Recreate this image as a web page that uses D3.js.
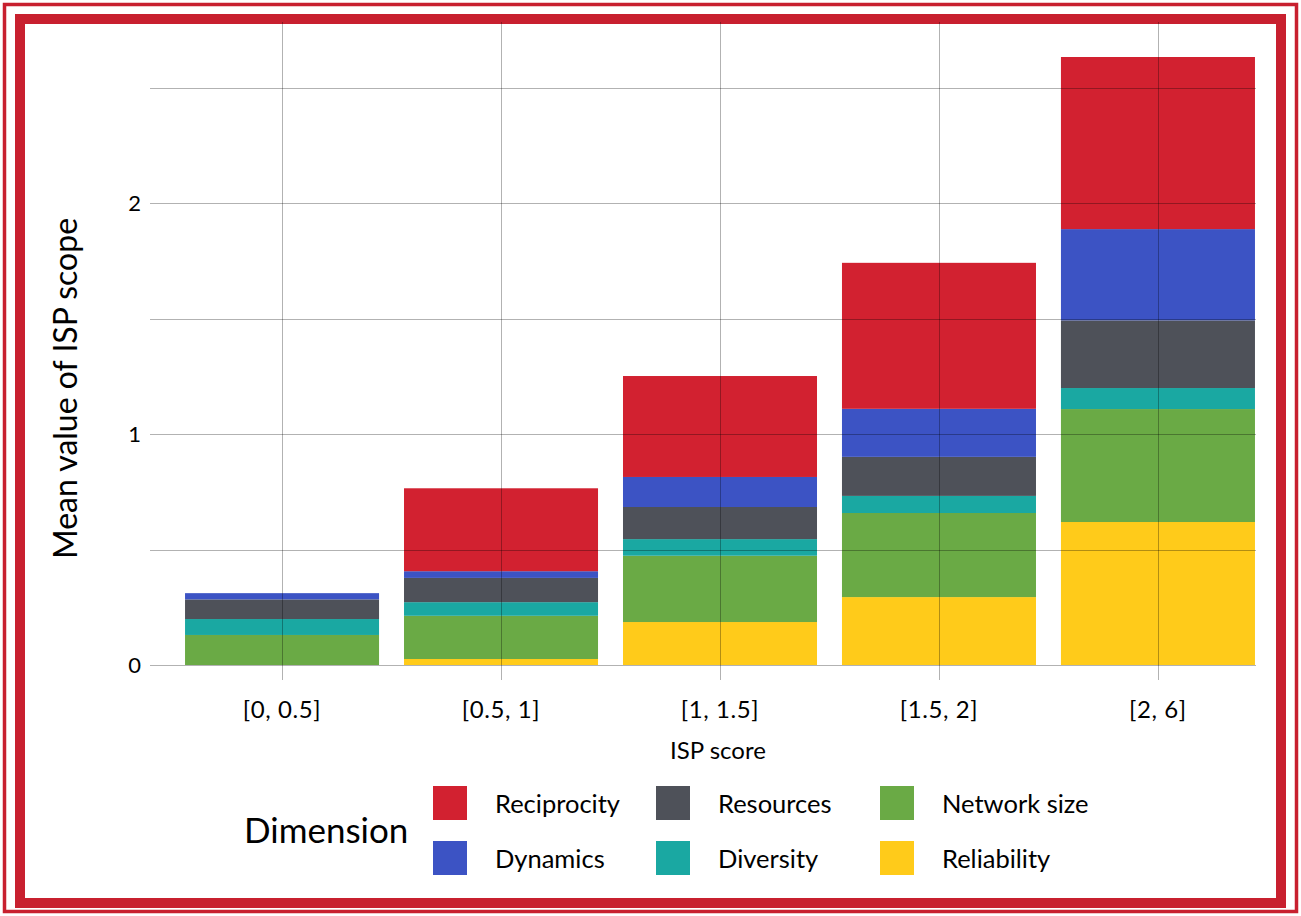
<!DOCTYPE html>
<html>
<head>
<meta charset="utf-8">
<script src="https://cdn.jsdelivr.net/npm/d3@7"></script>
<style>
  html, body { margin: 0; padding: 0; background: #fff; }
  svg { display: block; font-family: "Lato", "Noto Sans", sans-serif; }
</style>
</head>
<body>
<svg id="chart" width="1301" height="916"></svg>
<script>
// ISP score bins along the x axis
const categories = ["[0, 0.5]", "[0.5, 1]", "[1, 1.5]", "[1.5, 2]", "[2, 6]"];

// Stacking order, bottom to top
const dimensions = ["Reliability", "Network size", "Diversity", "Resources", "Dynamics", "Reciprocity"];

// Mean value of each dimension per bin
const reliability = [0.000, 0.026, 0.186, 0.294, 0.619];
const networkSize = [0.130, 0.187, 0.287, 0.364, 0.489];
const diversity   = [0.069, 0.059, 0.072, 0.074, 0.091];
const resources   = [0.085, 0.105, 0.139, 0.169, 0.293];
const dynamics    = [0.027, 0.029, 0.130, 0.208, 0.395];
const reciprocity = [0.000, 0.359, 0.437, 0.632, 0.745];

const yTicks = [0, 1, 2];
const yGrid = [0, 0.5, 1, 1.5, 2, 2.5];

// Legend layout: columns read top-to-bottom
const legendOrder = ["Reciprocity", "Dynamics", "Resources", "Diversity", "Network size", "Reliability"];

const colors = {
  "Reciprocity": "#D22130",
  "Dynamics": "#3C53C4",
  "Resources": "#4E5159",
  "Diversity": "#1AA8A2",
  "Network size": "#6AAA45",
  "Reliability": "#FFCB1A"
};

const seriesValues = {
  "Reliability": reliability,
  "Network size": networkSize,
  "Diversity": diversity,
  "Resources": resources,
  "Dynamics": dynamics,
  "Reciprocity": reciprocity
};

const rows = categories.map((c, i) => {
  const r = { category: c };
  dimensions.forEach(d => { r[d] = seriesValues[d][i]; });
  return r;
});

const svg = d3.select("#chart");
const W = 1301, H = 916;

// Double red frame
svg.append("rect").attr("x", 4.5).attr("y", 4.5).attr("width", W - 9).attr("height", H - 9)
  .attr("fill", "none").attr("stroke", "#C8202F").attr("stroke-width", 3.5);
svg.append("rect").attr("x", 20).attr("y", 19).attr("width", W - 30 - 10).attr("height", H - 19 - 13)
  .attr("fill", "none").attr("stroke", "#C8202F").attr("stroke-width", 10);

const plot = { left: 150, right: 1256, top: 22, bottom: 665 };

const x = d3.scaleBand()
  .domain(categories)
  .range([plot.left, 1290])
  .paddingInner(0.114)
  .paddingOuter(0.16);

const y = d3.scaleLinear()
  .domain([0, 1])
  .range([plot.bottom, plot.bottom - 231]);

const stack = d3.stack().keys(dimensions);
const stacked = stack(rows);

// Bars
const g = svg.append("g");
g.selectAll("g.series")
  .data(stacked)
  .join("g")
  .attr("class", "series")
  .attr("fill", d => colors[d.key])
  .selectAll("rect")
  .data(d => d)
  .join("rect")
  .attr("x", d => x(d.data.category))
  .attr("width", x.bandwidth())
  .attr("y", d => y(d[1]))
  .attr("height", d => y(d[0]) - y(d[1]));

// Grid drawn over the bars with translucent black
const grid = svg.append("g").attr("stroke", "#000").attr("stroke-opacity", 0.3).attr("stroke-width", 1);
grid.selectAll("line.h")
  .data(yGrid)
  .join("line")
  .attr("class", "h")
  .attr("x1", plot.left).attr("x2", plot.right)
  .attr("y1", d => Math.round(y(d)) + 0.5).attr("y2", d => Math.round(y(d)) + 0.5);
grid.selectAll("line.v")
  .data(categories)
  .join("line")
  .attr("class", "v")
  .attr("x1", d => Math.round(x(d) + x.bandwidth() / 2) + 0.5)
  .attr("x2", d => Math.round(x(d) + x.bandwidth() / 2) + 0.5)
  .attr("y1", plot.top).attr("y2", plot.bottom + 15);

// Y axis tick labels
const yAxis = d3.axisLeft(y).tickValues(yTicks).tickFormat(d3.format("d")).tickSize(0).tickPadding(9);
svg.append("g")
  .attr("transform", `translate(${plot.left},0)`)
  .call(yAxis)
  .call(a => a.select(".domain").remove())
  .selectAll("text")
  .attr("font-family", "Lato, sans-serif")
  .attr("font-size", 22)
  .attr("fill", "#000");

// X axis tick labels
const xAxis = d3.axisBottom(x).tickSize(0).tickPadding(36);
svg.append("g")
  .attr("transform", `translate(0,${plot.bottom})`)
  .call(xAxis)
  .call(a => a.select(".domain").remove())
  .selectAll("text")
  .attr("font-family", "Lato, sans-serif")
  .attr("font-size", 24)
  .attr("letter-spacing", 0.6)
  .attr("fill", "#000");

// Axis titles
svg.append("text")
  .attr("x", (plot.left + 1290) / 2 - 2).attr("y", 759)
  .attr("text-anchor", "middle")
  .attr("font-size", 24).attr("fill", "#000")
  .text("ISP score");

svg.append("text")
  .attr("transform", `translate(77, ${(plot.top + plot.bottom) / 2 + 45}) rotate(-90)`)
  .attr("text-anchor", "middle")
  .attr("font-size", 32).attr("fill", "#000")
  .text("Mean value of ISP scope");

// Legend
svg.append("text")
  .attr("x", 244).attr("y", 843)
  .attr("font-size", 35).attr("fill", "#000")
  .text("Dimension");

const legend = svg.append("g");
const colX = [433, 656, 880];
const rowY = [786, 841];
const items = legend.selectAll("g.item")
  .data(legendOrder)
  .join("g")
  .attr("class", "item")
  .attr("transform", (d, i) => `translate(${colX[Math.floor(i / 2)]},${rowY[i % 2]})`);
items.append("rect")
  .attr("width", 34).attr("height", 34)
  .attr("fill", d => colors[d]);
items.append("text")
  .attr("x", 62).attr("y", 27)
  .attr("font-size", 25.5).attr("fill", "#000")
  .text(d => d);
</script>
</body>
</html>
